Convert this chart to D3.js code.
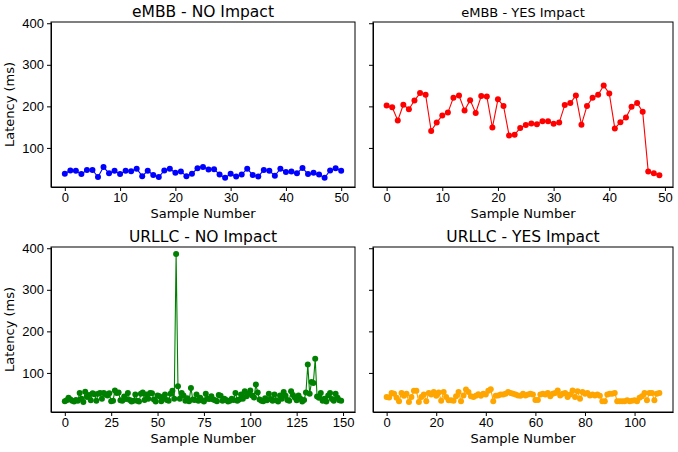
<!DOCTYPE html>
<html>
<head>
<meta charset="utf-8">
<script src="https://cdn.jsdelivr.net/npm/d3@7"></script>
<style>
  body { margin: 0; background: #fff; }
  svg { display: block; font-family: "DejaVu Sans", sans-serif; }
  .axis path, .axis line { stroke: #000; stroke-width: 1; }
  .axis text { font-size: 13px; fill: #000; }
</style>
</head>
<body>
<div id="chart"></div>
<script>
var width = 678, height = 452;

// latency samples (ms)
var embbNo = [38, 46, 45, 37, 47, 47, 30, 54, 39, 45, 37, 45, 44, 50, 32, 45, 35, 30, 46, 50,
  40, 43, 32, 38, 51, 54, 48, 49, 36, 28, 38, 31, 36, 50, 35, 31, 47, 45, 33, 50,
  42, 43, 39, 52, 37, 40, 36, 28, 46, 51, 45];

var embbYes = [202, 198, 166, 204, 193, 214, 232, 228, 141, 161, 178, 185, 221, 226, 190, 215, 184, 225, 224, 149,
  217, 201, 130, 132, 148, 155, 159, 157, 164, 164, 158, 161, 203, 208, 226, 156, 201, 221, 228, 250,
  231, 147, 162, 173, 199, 208, 187, 43, 39, 34];

var urllcNo = [32, 34, 40, 36, 33, 31, 35, 33, 52, 38,
  30, 55, 42, 47, 34, 51, 49, 33, 50, 52,
  38, 52, 49, 46, 51, 32, 33, 58, 52, 53,
  34, 33, 43, 37, 52, 35, 31, 33, 48, 33,
  31, 50, 53, 35, 48, 38, 52, 51, 36, 31,
  46, 44, 32, 40, 48, 35, 33, 50, 57, 38,
  386, 68, 38, 52, 46, 33, 39, 32, 64, 36,
  35, 48, 33, 40, 34, 31, 50, 38, 37, 44,
  36, 34, 32, 47, 45, 33, 38, 35, 31, 33,
  38, 35, 52, 33, 36, 48, 38, 56, 44, 50,
  58, 46, 41, 72, 53, 36, 33, 32, 39, 34,
  50, 37, 33, 48, 34, 31, 46, 38, 54, 45,
  35, 33, 56, 47, 41, 34, 46, 38, 31, 35,
  53, 120, 50, 78, 76, 134, 43, 40, 52, 33,
  38, 31, 46, 52, 37, 33, 50, 40, 34, 33];

var urllcYes = [42, 41, 52, 50, 40, 32, 52, 45, 50, 30,
  42, 57, 57, 30, 42, 48, 32, 52, 48, 54,
  45, 53, 33, 54, 42, 34, 34, 33, 44, 54,
  32, 46, 60, 54, 44, 42, 45, 49, 45, 50,
  48, 57, 61, 32, 45, 46, 48, 48, 50, 54,
  52, 50, 48, 46, 45, 50, 46, 48, 50, 48,
  35, 35, 48, 50, 48, 52, 44, 50, 52, 58,
  46, 50, 52, 42, 48, 58, 42, 56, 38, 54,
  50, 52, 46, 48, 46, 48, 45, 32, 32, 48,
  50, 50, 52, 32, 32, 32, 32, 34, 32, 33,
  34, 32, 40, 44, 52, 34, 52, 52, 34, 50, 52];

var titles = ["eMBB - NO Impact", "eMBB - YES Impact", "URLLC - NO Impact", "URLLC - YES Impact"];
var colors = ["blue", "red", "green", "orange"];
var xTicks = [[0, 10, 20, 30, 40, 50], [0, 10, 20, 30, 40, 50], [0, 25, 50, 75, 100, 125, 150], [0, 20, 40, 60, 80, 100]];
var yTicks = [100, 200, 300, 400];
var yDomain = [6, 403];

var series = [embbNo, embbYes, urllcNo, urllcYes];

var panels = [
  {x: 51, y: 22, w: 304, h: 165, ylab: true, titleSize: 15.5},
  {x: 373, y: 22, w: 300, h: 165, ylab: false, titleSize: 13},
  {x: 51, y: 247, w: 304, h: 165, ylab: true, titleSize: 15.5},
  {x: 373, y: 247, w: 300, h: 165, ylab: false, titleSize: 15.5}
];

var svg = d3.select("#chart").append("svg")
    .attr("width", width)
    .attr("height", height);

panels.forEach(function(p, k) {
    var data = series[k];
    var n = data.length - 1;
    var pad = n * 0.05;  // matplotlib-like margins

    var x = d3.scaleLinear().domain([-pad, n + pad]).range([0, p.w]);
    var y = d3.scaleLinear().domain(yDomain).range([p.h, 0]);

    var g = svg.append("g").attr("transform", "translate(" + p.x + "," + p.y + ")");

    // line + markers
    var line = d3.line()
        .x(function(d, i) { return x(i); })
        .y(function(d) { return y(d); });

    g.append("path")
        .datum(data)
        .attr("d", line)
        .attr("fill", "none")
        .attr("stroke", colors[k])
        .attr("stroke-width", 1.1);

    g.selectAll("circle")
        .data(data)
        .enter().append("circle")
        .attr("cx", function(d, i) { return x(i); })
        .attr("cy", function(d) { return y(d); })
        .attr("r", 3)
        .attr("fill", colors[k]);

    // axes
    g.append("g")
        .attr("class", "axis")
        .attr("transform", "translate(0," + p.h + ")")
        .call(d3.axisBottom(x).tickValues(xTicks[k]).tickSize(4).tickPadding(2).tickSizeOuter(0));

    var yAxis = d3.axisLeft(y).tickValues(yTicks).tickSize(4).tickPadding(3).tickSizeOuter(0);
    if (!p.ylab) yAxis.tickFormat("");
    g.append("g")
        .attr("class", "axis")
        .call(yAxis);

    // frame
    g.append("rect")
        .attr("width", p.w)
        .attr("height", p.h)
        .attr("fill", "none")
        .attr("stroke", "#000")
        .attr("stroke-width", 1);

    g.append("text")
        .text(titles[k])
        .attr("x", p.w / 2)
        .attr("y", -5)
        .attr("text-anchor", "middle")
        .style("font-size", p.titleSize + "px");

    g.append("text")
        .text("Sample Number")
        .attr("x", p.w / 2)
        .attr("y", p.h + 31)
        .attr("text-anchor", "middle")
        .style("font-size", "13px");

    if (p.ylab) {
        g.append("text")
            .text("Latency (ms)")
            .attr("transform", "translate(-37," + (p.h / 2) + ") rotate(-90)")
            .attr("text-anchor", "middle")
            .style("font-size", "13px");
    }
});
</script>
</body>
</html>
